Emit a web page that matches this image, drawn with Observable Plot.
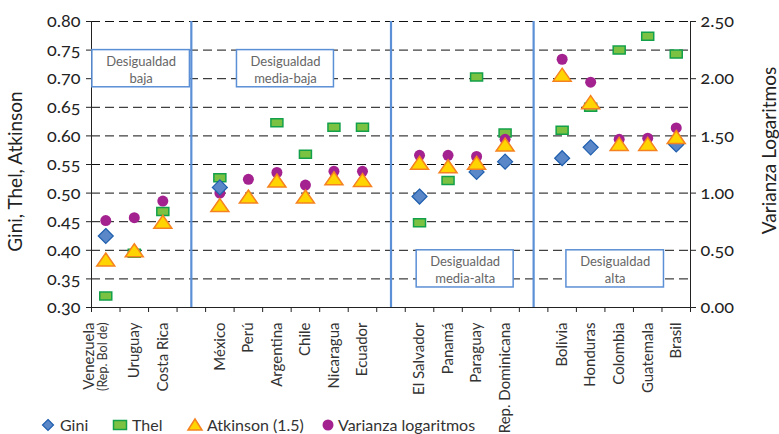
<!DOCTYPE html>
<html><head><meta charset="utf-8">
<script src="https://cdn.jsdelivr.net/npm/d3@7"></script>
<script src="https://cdn.jsdelivr.net/npm/@observablehq/plot@0.6"></script>
<style>
body{margin:0;background:#fff;font-family:Lato,"Open Sans",sans-serif;}
#wrap{position:relative;width:779px;height:434px;overflow:hidden;}
#legend{position:absolute;left:0;top:414px;width:779px;height:22px;font-size:16px;color:#333;}
#legend .it{position:absolute;top:0;height:22px;line-height:22px;white-space:nowrap;}
#legend svg{position:absolute;top:0;}
svg text{font-variant-numeric:oldstyle-nums;}
</style></head><body><div id="wrap"><div id="legend"></div></div>
<script>
// ---- data ----  (null = marker hidden behind another marker in the source, value not readable)
const countries = ["Venezuela","Uruguay","Costa Rica","México","Perú","Argentina","Chile","Nicaragua","Ecuador","El Salvador","Panamá","Paraguay","Rep. Dominicana","Bolivia","Honduras","Colombia","Guatemala","Brasil"];
const countryNotes = ["(Rep. Bol de)","","","","","","","","","","","","","","","","",""];
const groupIndex = [0,0,0,1,1,1,1,1,1,2,2,2,2,3,3,3,3,3];
const groupLabels = ["Desigualdad\nbaja","Desigualdad\nmedia-baja","Desigualdad\nmedia-alta","Desigualdad\nalta"];
const gini     = [0.425,null,null,0.510,null,null,null,null,null,0.494,null,0.537,0.555,0.561,0.580,null,null,0.585];
const thel     = [0.320,0.395,0.468,0.527,null,0.623,0.568,0.615,0.615,0.448,0.522,0.703,0.605,0.610,0.650,0.750,0.774,0.743];
const atkinson = [0.384,0.400,0.450,0.479,0.494,0.522,0.494,0.526,0.523,0.553,0.547,0.553,0.585,0.707,0.659,0.586,0.586,0.598];
const varianza = [0.76,0.785,0.93,1.00,1.12,1.18,1.07,1.19,1.19,1.33,1.33,1.32,1.47,2.17,1.97,1.47,1.48,1.57];
const leftTicks = [0.30,0.35,0.40,0.45,0.50,0.55,0.60,0.65,0.70,0.75,0.80];
const rightTicks = [0.00,0.50,1.00,1.50,2.00,2.50];
const seriesNames = ["Gini","Thel","Atkinson (1.5)","Varianza logaritmos"];

// ---- layout helpers ----
const nSlots = countries.length + groupLabels.length - 1;
const rows = countries.map((c,i)=>({
  country:c, note:countryNotes[i], x:i+groupIndex[i]+0.5,
  gini:gini[i], thel:thel[i], atkinson:atkinson[i], varianza:varianza[i]
}));
// secondary axis mapping: 0..2.5 -> 0.30..0.80
const v2y = v => 0.30 + v*0.2;
const y2v = y => (y-0.30)/0.2;
const dividers = groupLabels.slice(1).map((g,k)=>{
  const first = groupIndex.indexOf(k+1);
  return first + k + 1 - 0.5;
});
const boxes = [
  {label:groupLabels[0], x1:0.03, x2:3.45, y1:0.685, y2:0.75},
  {label:groupLabels[1], x1:5.1, x2:8.5, y1:0.685, y2:0.75},
  {label:groupLabels[2], x1:11.4, x2:14.8, y1:0.335, y2:0.40},
  {label:groupLabels[3], x1:16.65, x2:20.07, y1:0.335, y2:0.40}
];

const C = {gini:"#5a87c8", giniS:"#1f5fae", thel:"#7cc242", thelS:"#13a04a", atk:"#ffd400", atkS:"#f58220", vari:"#a4228f", blue:"#5b8fd6"};

const diamond = {draw(ctx){ctx.moveTo(0,-7.5);ctx.lineTo(7.5,0);ctx.lineTo(0,7.5);ctx.lineTo(-7.5,0);ctx.closePath();}};
const rectSym = {draw(ctx){ctx.rect(-6,-4,12,8);}};
const tri = {draw(ctx){ctx.moveTo(0,-6.5);ctx.lineTo(9,6.5);ctx.lineTo(-9,6.5);ctx.closePath();}};

const chart = Plot.plot({
  width:779, height:434,
  marginLeft:91, marginRight:89, marginTop:21, marginBottom:127,
  x:{domain:[0,nSlots], axis:null},
  y:{domain:[0.30,0.80], axis:null},
  style:{fontFamily:"Lato, 'Open Sans', sans-serif", background:"white", color:"#222"},
  marks:[
    Plot.ruleY(leftTicks.slice(1), {stroke:"#111", strokeWidth:1, strokeDasharray:"9,5"}),
    Plot.ruleX(dividers, {y1:0.30, y2:0.80, stroke:C.blue, strokeWidth:2.2}),
    Plot.ruleX([0, nSlots], {y1:0.30, y2:0.80, stroke:"#222", strokeWidth:1}),
    Plot.ruleY([0.30], {stroke:"#222", strokeWidth:1}),
    Plot.axisY(leftTicks, {anchor:"left", tickSize:5, tickPadding:6, tickFormat:d3.format(".2f"), fontSize:18, fill:"#222"}),
    Plot.axisY(rightTicks.map(v2y), {anchor:"right", tickSize:5, tickPadding:5, tickFormat:d=>y2v(d).toFixed(2), fontSize:18, fill:"#222"}),
    Plot.axisX(d3.range(0,nSlots+1), {anchor:"bottom", tickSize:5, tickFormat:()=>"", stroke:"#222"}),
    // group boxes
    Plot.rect(boxes, {x1:"x1", x2:"x2", y1:"y1", y2:"y2", fill:"white", stroke:C.blue, strokeWidth:1.5}),
    Plot.text(boxes, {x:d=>(d.x1+d.x2)/2, y:d=>(d.y1+d.y2)/2, text:"label", fontSize:13, fill:"#666", lineHeight:1.3}),
    // series
    Plot.dot(rows.filter(d=>d.thel!=null), {x:"x", y:"thel", symbol:rectSym, fill:C.thel, stroke:C.thelS, strokeWidth:1.5, r:6}),
    Plot.dot(rows, {x:"x", y:d=>v2y(d.varianza), r:5.5, fill:C.vari, stroke:null}),
    Plot.dot(rows.filter(d=>d.gini!=null), {x:"x", y:"gini", symbol:diamond, fill:C.gini, stroke:C.giniS, strokeWidth:1.2, r:7}),
    Plot.dot(rows, {x:"x", y:"atkinson", symbol:tri, fill:C.atk, stroke:C.atkS, strokeWidth:1.5, r:8}),
    // category labels
    Plot.text(rows.filter(d=>!d.note), {x:"x", y:()=>0.30, text:"country", rotate:-90, textAnchor:"end", dy:15, fontSize:15, fill:"#333"}),
    Plot.text(rows.filter(d=>d.note), {x:"x", y:()=>0.30, text:"country", rotate:-90, textAnchor:"end", dy:15, dx:-17, fontSize:15, fill:"#333"}),
    Plot.text(rows.filter(d=>d.note), {x:"x", y:()=>0.30, text:"note", rotate:-90, textAnchor:"end", dy:15, dx:-3, fontSize:12.5, fill:"#333"}),
    // axis titles
    Plot.text(["Gini, Thel, Atkinson"], {frameAnchor:"left", textAnchor:"middle", rotate:-90, dx:-76, dy:7, fontSize:19, fill:"#222"}),
    Plot.text(["Varianza Logaritmos"], {frameAnchor:"right", textAnchor:"middle", rotate:-90, dx:79, dy:-14, fontSize:19, fill:"#222"})
  ]
});
const wrap = document.getElementById("wrap");
wrap.insertBefore(chart, wrap.firstChild);
chart.style.position = "absolute"; chart.style.left = "0"; chart.style.top = "0";

// legend
const leg = document.getElementById("legend");
const items = [
  {sym:`<svg width="14" height="22" style="left:41px"><path d="M7,5.5L12.5,11L7,16.5L1.5,11Z" fill="${C.gini}" stroke="${C.giniS}" stroke-width="1.2"/></svg>`, tx:60},
  {sym:`<svg width="16" height="22" style="left:112px"><rect x="1.5" y="6.5" width="13" height="9" fill="${C.thel}" stroke="${C.thelS}" stroke-width="1.5"/></svg>`, tx:132},
  {sym:`<svg width="18" height="22" style="left:186px"><path d="M9,5L16,16L2,16Z" fill="${C.atk}" stroke="${C.atkS}" stroke-width="1.5"/></svg>`, tx:207},
  {sym:`<svg width="14" height="22" style="left:321px"><circle cx="7" cy="11" r="5.5" fill="${C.vari}"/></svg>`, tx:338}
];
leg.innerHTML = items.map((it,i)=>it.sym + `<span class="it" style="left:${it.tx}px">${seriesNames[i]}</span>`).join("");
</script>
</body></html>
